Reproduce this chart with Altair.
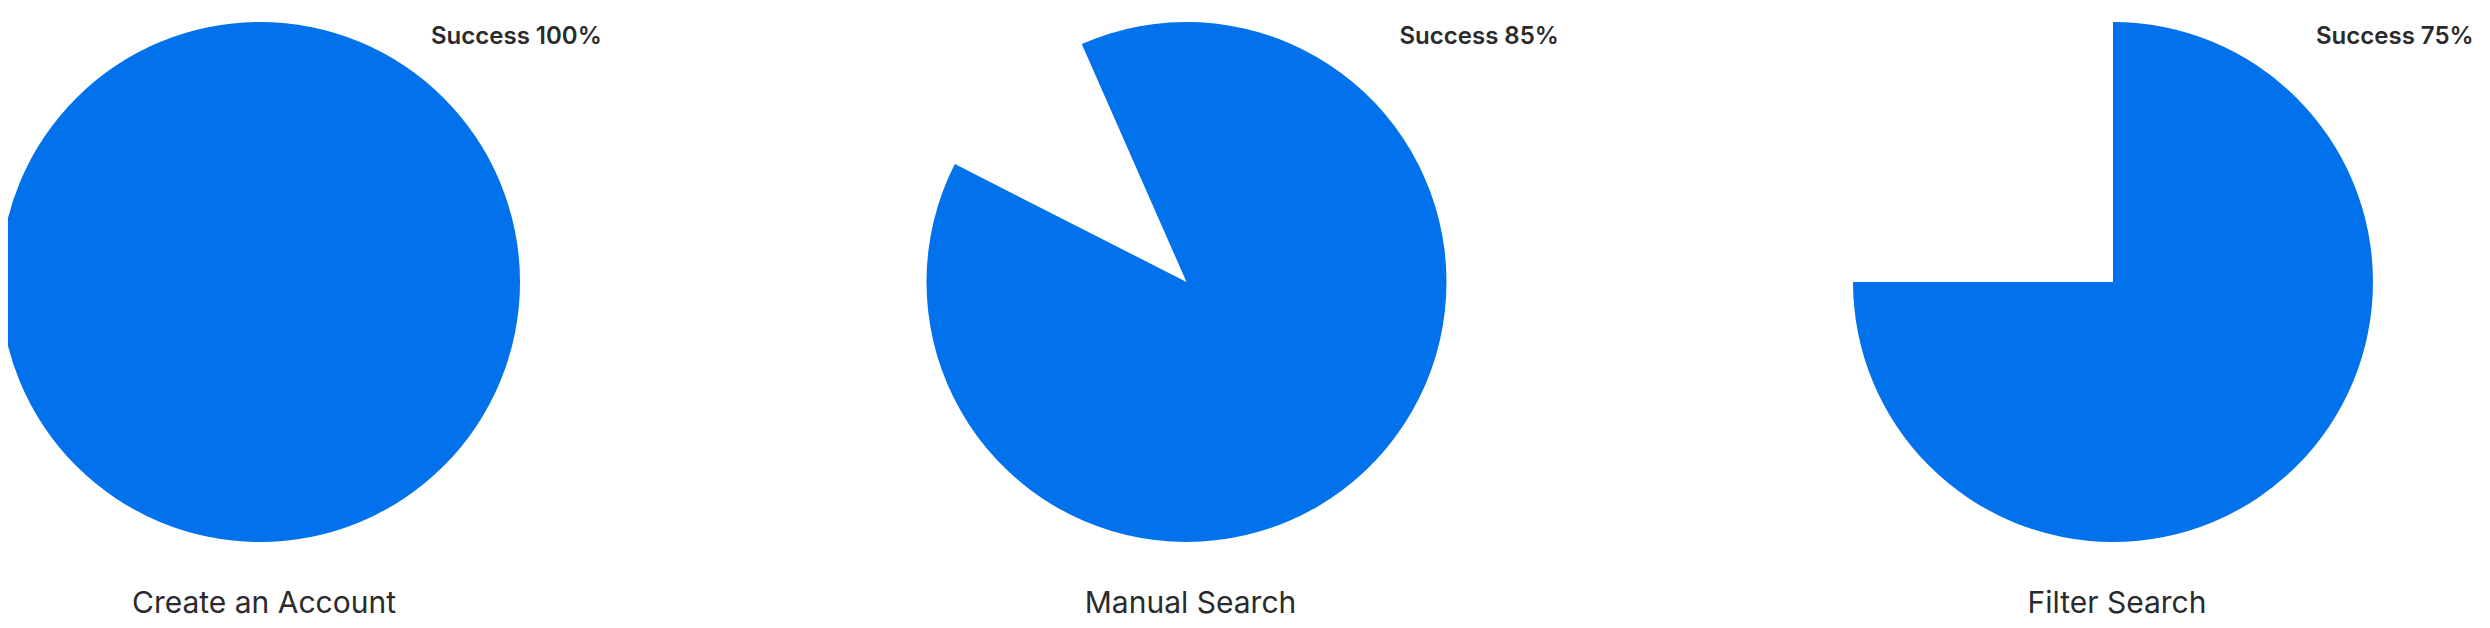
import math
import altair as alt
import pandas as pd

# ---- data ----
tasks = ["Create an Account", "Manual Search", "Filter Search"]
success_pct = [100, 85, 75]
# blue wedge, in percent of a full turn, clockwise from 12 o'clock (as drawn)
wedge_start = [0, -6.6, 0]
wedge_end = [100, 82.5, 75]

df = pd.DataFrame({
    "task": tasks,
    "success": success_pct,
    "start": wedge_start,
    "end": wedge_end,
})
df["label"] = "Success " + df["success"].astype(str) + "%"

# ---- styles / layout ----
W, H = 2474, 612
BLUE = "#0172EB"
TEXT = "#2B2B2D"
FONT = "Inter"
RADIUS = 260
CENTER_Y = 274
LABEL_DX = [171, 213, 203]

x_enc = alt.X(
    "task:N",
    sort=tasks,
    scale=alt.Scale(type="point", range=[252, 2105], padding=0),
    axis=None,
)

base = alt.Chart(df)

arcs = base.mark_arc(radius=RADIUS, color=BLUE, strokeWidth=0).encode(
    x=x_enc,
    y=alt.value(CENTER_Y),
    theta=alt.Theta(
        "start:Q",
        stack=False,
        scale=alt.Scale(domain=[0, 100], range=[0, 2 * math.pi]),
    ),
    theta2="end:Q",
)

names = base.mark_text(
    font=FONT, fontSize=30, color=TEXT, baseline="alphabetic", align="center", dx=4
).encode(
    x=x_enc,
    y=alt.value(605),
    text="task:N",
)

labels = []
for t, dx in zip(tasks, LABEL_DX):
    labels.append(
        base.transform_filter(alt.datum.task == t)
        .mark_text(
            font=FONT,
            fontSize=24,
            fontWeight=600,
            color=TEXT,
            align="left",
            baseline="alphabetic",
            dx=dx,
        )
        .encode(x=x_enc, y=alt.value(36), text="label:N")
    )

chart = (
    alt.layer(arcs, names, *labels)
    .properties(
        width=W,
        height=H,
        autosize=alt.AutoSizeParams(type="none"),
        padding=0,
        background="white",
    )
    .configure_view(stroke="transparent")
)

chart.save("out.html", embed_options={"renderer": "svg", "actions": False})
